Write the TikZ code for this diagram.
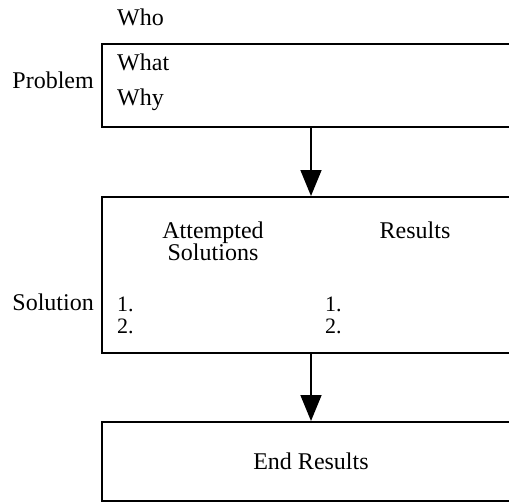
\documentclass[tikz,border=0pt]{standalone}
\usepackage{fontspec}
\setmainfont{Liberation Serif}
\usetikzlibrary{arrows.meta, positioning}

\begin{document}
\begin{tikzpicture}[x=1pt,y=-1pt,font=\fontsize{24}{22}\selectfont,
    every box/.style={draw, line width=2pt, anchor=north west, minimum width=418pt},
    lbl/.style={inner sep=0pt},
    item/.style={inner sep=0pt, anchor=base west, font=\fontsize{22}{22}\selectfont},
    flow/.style={line width=1.6pt, -{Triangle[length=26pt,width=21pt]}}]
    \useasboundingbox (0,0) rectangle (509,503);
    \clip (0,0) rectangle (509,503);
    \node[every box, minimum height=83pt] (prob) at (101,43) {};
    \node[every box, minimum height=156pt] (sol) at (101,196) {};
    \node[every box, minimum height=79pt] (res) at (101,421) {};
    \node[lbl, anchor=west] (who) at (117,17) {Who};
    \node[lbl, anchor=west] (what) at (117,62) {What};
    \node[lbl, anchor=west] (why) at (117,100) {Why};
    \node[lbl, anchor=east] (problem) at (94,80) {Problem};
    \node[lbl, align=center] (att) at (213,241) {Attempted\\Solutions};
    \node[lbl] (rsl) at (415,230) {Results};
    \node[lbl, anchor=east] (solution) at (94,302) {Solution};
    \node[item] (a1) at (117,311) {1.};
    \node[item] (a2) at (117,333) {2.};
    \node[item] (b1) at (325,311) {1.};
    \node[item] (b2) at (325,333) {2.};
    \node[lbl] (end) at (res.center) {End Results};
    \draw[flow] (prob.south) -- (sol.north);
    \draw[flow] (sol.south) -- (res.north);
\end{tikzpicture}
\end{document}
